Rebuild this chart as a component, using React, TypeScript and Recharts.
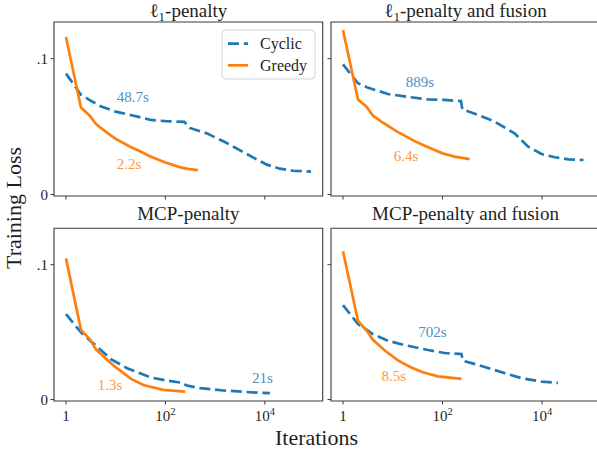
import { ComposedChart, Line, XAxis, YAxis, ReferenceDot, ReferenceArea } from "recharts";

const BLUE = "#1f77b4";
const ORANGE = "#ff7f0e";
const BLUE_TXT = "#4c92c3";
const ORANGE_TXT = "#ff993e";
const INK = "#1e1e1e";
const SPINE = "#3a3a3a";
const FONT = "'Liberation Serif', 'DejaVu Serif', serif";

// [iteration, training loss]
const l1Cyclic = [[1, 0.089], [2, 0.0735], [3, 0.0695], [5, 0.065], [10, 0.061], [20, 0.0585], [30, 0.057], [50, 0.055], [100, 0.054], [240, 0.0535], [310, 0.049], [680, 0.045], [1500, 0.039], [3000, 0.033], [6000, 0.027], [11000, 0.022], [20000, 0.019], [37000, 0.0175], [85000, 0.0168]];
const l1Greedy = [[1, 0.116], [2, 0.064], [3, 0.058], [4, 0.052], [5, 0.049], [7, 0.045], [10, 0.041], [20, 0.035], [30, 0.032], [50, 0.028], [100, 0.0235], [200, 0.02], [300, 0.0187], [450, 0.018]];

const l1fCyclic = [[1, 0.0958], [2, 0.0819], [3, 0.079], [8, 0.074], [23, 0.0716], [51, 0.07], [110, 0.0696], [235, 0.0688], [250, 0.0627], [525, 0.0585], [1120, 0.0536], [2800, 0.045], [5250, 0.0352], [9800, 0.0298], [18000, 0.0274], [34000, 0.0259], [68000, 0.0254]];
const l1fGreedy = [[1, 0.121], [2, 0.07], [3, 0.0645], [4, 0.058], [6, 0.0535], [12, 0.0465], [27, 0.0395], [45, 0.0357], [100, 0.0303], [175, 0.0279], [350, 0.0261]];

const mcpCyclic = [[1, 0.0633], [2, 0.0498], [4, 0.04], [8, 0.03], [17, 0.0232], [49, 0.0165], [107, 0.014], [230, 0.0123], [260, 0.0105], [500, 0.0084], [1480, 0.0067], [5000, 0.0054], [12600, 0.0047]];
const mcpGreedy = [[1, 0.1047], [2, 0.0517], [3, 0.0448], [4, 0.0372], [7, 0.029], [10, 0.024], [20, 0.0155], [36, 0.0108], [90, 0.0072], [250, 0.0059]];

const mcpfCyclic = [[1, 0.07], [2, 0.056], [4, 0.0485], [8, 0.0436], [17, 0.0404], [51, 0.0367], [110, 0.0345], [240, 0.0338], [255, 0.0288], [525, 0.0256], [1550, 0.0202], [3900, 0.0158], [9800, 0.0133], [21000, 0.0123]];
const mcpfGreedy = [[1, 0.11], [2, 0.0584], [3, 0.051], [4, 0.0443], [7, 0.0362], [13, 0.0288], [23, 0.0239], [40, 0.0202], [81, 0.0172], [240, 0.0153]];

// run time notes: [iteration, loss, text, series]
const l1Notes = [[22, 0.072, "48.7s", "c"], [18.5, 0.0225, "2.2s", "g"]];
const l1fNotes = [[35, 0.0828, "889s", "c"], [18.4, 0.0283, "6.4s", "g"]];
const mcpNotes = [[7.7, 0.0111, "1.3s", "g"], [8950, 0.0163, "21s", "c"]];
const mcpfNotes = [[63, 0.05, "702s", "c"], [10.5, 0.0177, "8.5s", "g"]];

const xTicks = [1, 100, 10000];
const yTicks = [0, 0.1];
const xDomain = [0.574, 146000];
const yDomain = [-0.0011, 0.127];

const toRows = (pts: any[]) => pts.map(([it, loss]) => ({ it, loss }));

function XTick({ x, y, payload }: any) {
  const exp = Math.round(Math.log10(payload.value));
  return (
    <text x={x} y={y} dy={14} textAnchor="middle" fontFamily={FONT} fontSize={15} fill={INK}>
      {exp === 0 ? "1" : <>10<tspan dy={-6} fontSize={10.5}>{exp}</tspan></>}
    </text>
  );
}

function YTick({ x, y, payload }: any) {
  return (
    <text x={x} y={y} dy={5} textAnchor="end" fontFamily={FONT} fontSize={15} fill={INK}>
      {payload.value === 0 ? "0" : ".1"}
    </text>
  );
}

function Panel({ left, top, width, height, yW, mTop, mRight, xH, cyclic, greedy, notes, xLabels, yLabels }: any) {
  return (
    <div style={{ position: "absolute", left, top }}>
      <ComposedChart width={width} height={height} margin={{ top: mTop, right: mRight, left: 0, bottom: 0 }}>
        <XAxis dataKey="it" type="number" scale="log" domain={xDomain} allowDataOverflow ticks={xTicks}
          interval={0} height={xH} tickSize={3.5} tickLine={{ stroke: SPINE }} axisLine={false}
          tick={xLabels ? <XTick /> : () => null} />
        <YAxis type="number" domain={yDomain} allowDataOverflow ticks={yTicks} interval={0} width={yW}
          tickSize={3.5} tickMargin={2.5} tickLine={{ stroke: SPINE }} axisLine={false}
          tick={yLabels ? <YTick /> : () => null} />
        <ReferenceArea x1={xDomain[0]} x2={xDomain[1]} y1={yDomain[0]} y2={yDomain[1]}
          fill="none" fillOpacity={0} stroke={SPINE} strokeWidth={1.1} ifOverflow="visible" />
        <Line data={toRows(cyclic)} dataKey="loss" stroke={BLUE} strokeWidth={2.7} strokeDasharray="11 4.8"
          dot={false} isAnimationActive={false} />
        <Line data={toRows(greedy)} dataKey="loss" stroke={ORANGE} strokeWidth={2.7}
          dot={false} isAnimationActive={false} />
        {notes.map(([it, loss, text, s]: any) => (
          <ReferenceDot key={text} x={it} y={loss} r={0} ifOverflow="visible" fill="none" stroke="none"
            label={(p: any) => (
              <text x={p.viewBox.x} y={p.viewBox.y} dy={5} textAnchor="middle" fontFamily={FONT}
                fontSize={15} fill={s === "c" ? BLUE_TXT : ORANGE_TXT}>{text}</text>
            )} />
        ))}
      </ComposedChart>
    </div>
  );
}

function Title({ x, y, sub, children }: any) {
  return (
    <text x={x} y={y} textAnchor="middle" fontFamily={FONT} fontSize={19} fill={INK}>
      {sub ? <><tspan>ℓ</tspan><tspan dy={4} fontSize={13}>1</tspan><tspan dy={-4}>{children}</tspan></> : children}
    </text>
  );
}

export default function App() {
  return (
    <div style={{ position: "absolute", left: 0, top: 0, width: 597, height: 453, overflow: "hidden", background: "#fff" }}>
      <Panel left={0} top={0} width={327} height={210} yW={54} mTop={22} mRight={4.3} xH={14}
        cyclic={l1Cyclic} greedy={l1Greedy} notes={l1Notes} xLabels={false} yLabels />
      <Panel left={327} top={0} width={280} height={210} yW={4} mTop={22} mRight={7} xH={14}
        cyclic={l1fCyclic} greedy={l1fGreedy} notes={l1fNotes} xLabels={false} yLabels={false} />
      <Panel left={0} top={200} width={327} height={253} yW={54} mTop={28.3} mRight={4.3} xH={52}
        cyclic={mcpCyclic} greedy={mcpGreedy} notes={mcpNotes} xLabels yLabels />
      <Panel left={327} top={200} width={280} height={253} yW={4} mTop={28.3} mRight={7} xH={52}
        cyclic={mcpfCyclic} greedy={mcpfGreedy} notes={mcpfNotes} xLabels yLabels={false} />
      <svg width={597} height={453} style={{ position: "absolute", left: 0, top: 0, pointerEvents: "none" }}>
        <Title x={188.4} y={17} sub>-penalty</Title>
        <Title x={465.5} y={17} sub>-penalty and fusion</Title>
        <Title x={188.4} y={220}>MCP-penalty</Title>
        <Title x={465.5} y={220}>MCP-penalty and fusion</Title>
        <text x={316.5} y={445} textAnchor="middle" fontFamily={FONT} fontSize={22} fill={INK}>Iterations</text>
        <text transform="rotate(-90)" x={-208} y={21} textAnchor="middle" fontFamily={FONT} fontSize={22} fill={INK}>Training Loss</text>
        <rect x={222} y={30} width={93} height={49} rx={4} fill="#fff" fillOpacity={0.8} stroke="#d4d4d4" />
        <line x1={228} y1={43.7} x2={248} y2={43.7} stroke={BLUE} strokeWidth={2.7} strokeDasharray="11 4.8" />
        <text x={260} y={49} fontFamily={FONT} fontSize={16} fill={INK}>Cyclic</text>
        <line x1={228} y1={65.3} x2={248} y2={65.3} stroke={ORANGE} strokeWidth={2.7} />
        <text x={260} y={70.5} fontFamily={FONT} fontSize={16} fill={INK}>Greedy</text>
      </svg>
    </div>
  );
}
